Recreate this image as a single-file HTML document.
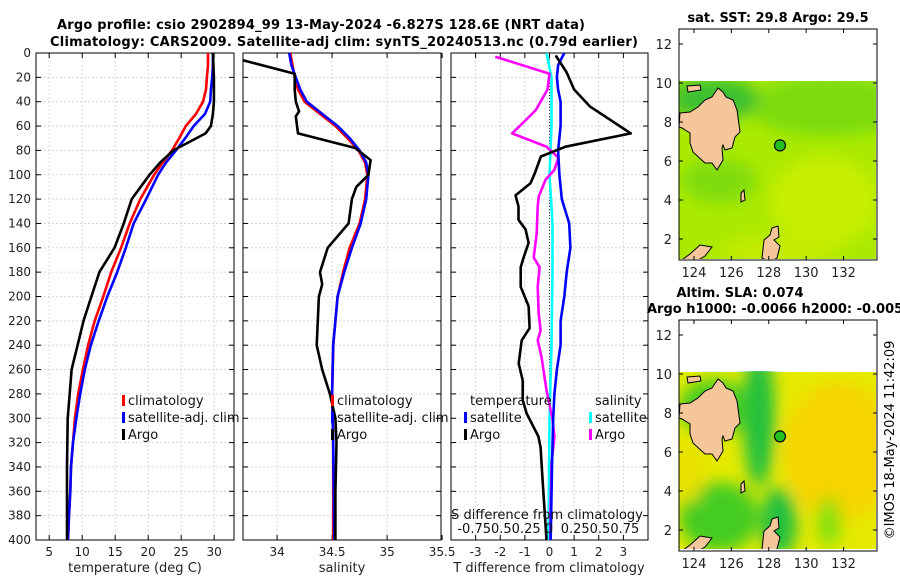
<!DOCTYPE html>
<html><head><meta charset="utf-8"><style>
body{margin:0;background:#fff}
svg{display:block;font-family:"DejaVu Sans","Liberation Sans",sans-serif}
</style></head><body>
<svg id="c" width="900" height="580" viewBox="0 0 900 580" xmlns="http://www.w3.org/2000/svg">
<defs>
<filter id="blur" x="-20%" y="-20%" width="140%" height="140%"><feGaussianBlur stdDeviation="8"/></filter>
<clipPath id="clipTop"><rect x="679" y="81" width="197" height="178"/></clipPath>
<clipPath id="clipBot"><rect x="679" y="371" width="197" height="178"/></clipPath>
</defs>
<text x="321" y="29" font-size="13" font-weight="bold" text-anchor="middle" textLength="528">Argo profile: csio 2902894_99 13-May-2024 -6.827S 128.6E (NRT data)</text>
<text x="344" y="46" font-size="13" font-weight="bold" text-anchor="middle" textLength="588">Climatology: CARS2009. Satellite-adj clim: synTS_20240513.nc (0.79d earlier)</text>
<g id="plots"></g>
<g id="maps"></g>
<text transform="translate(894,440) rotate(-90)" font-size="13" text-anchor="middle">©IMOS 18-May-2024 11:42:09</text>
</svg>
<script>
// ---- data ----
const depthClim = [0,10,20,30,40,50,60,70,80,90,100,120,140,160,180,200,220,240,260,280,300,320,340,360,380,400];
const tempClim = [29.06,29.06,28.9,28.76,28.3,27.24,25.7,24.7,23.6,22.2,20.9,18.8,17.2,15.9,14.4,13.2,11.9,10.9,10.1,9.4,8.9,8.6,8.3,8.2,8.0,7.85];
const tempSat = [29.8,29.8,29.7,29.5,29.4,28.6,26.9,25.6,24.2,22.7,21.5,19.7,17.8,16.6,15.3,13.8,12.5,11.3,10.4,9.7,9.1,8.6,8.3,8.2,8.0,7.85];
const depthArgoT = [0,20,40,50,60,66,80,90,100,120,140,160,180,200,220,240,260,280,300,340,400];
const tempArgo = [29.8,29.95,29.95,29.8,29.5,28.7,23.8,21.8,20.2,17.5,16.3,14.9,12.6,11.4,10.2,9.3,8.4,8.1,7.8,7.7,7.7];
const depthSalClim = [0,10,20,30,40,50,60,70,80,90,100,120,140,160,180,200,240,280,320,400];
const salClim = [34.12,34.14,34.16,34.19,34.25,34.39,34.53,34.64,34.74,34.8,34.82,34.8,34.75,34.66,34.6,34.55,34.51,34.5,34.51,34.51];
const salSat = [34.11,34.13,34.17,34.21,34.27,34.41,34.55,34.66,34.75,34.81,34.83,34.81,34.76,34.68,34.61,34.55,34.51,34.5,34.51,34.52];
const depthArgoS = [6,17,30,40,48,52,66,78,88,100,110,120,140,160,180,190,200,220,240,260,280,300,320,360,400];
const salArgo = [33.69,34.16,34.16,34.17,34.2,34.17,34.19,34.71,34.85,34.83,34.72,34.68,34.65,34.46,34.39,34.41,34.38,34.37,34.36,34.41,34.48,34.53,34.54,34.53,34.53];
const depthDT = [0,10,20,30,40,60,80,100,120,140,160,180,200,220,240,260,280,300,340,400];
const dTSat = [0.6,0.35,0.3,0.35,0.45,0.45,0.35,0.4,0.5,0.8,0.85,0.7,0.6,0.45,0.45,0.3,0.2,0.15,0.1,0.05];
const depthDTArgo = [2,16,30,44,66,77,85,99,107,117,126,137,145,156,168,176,192,208,226,236,255,269,285,296,315,324,351,376,400];
const dTArgo = [0.25,0.7,1.0,1.65,3.3,0.65,-0.35,-0.6,-0.77,-1.38,-1.26,-1.26,-0.97,-0.85,-1.05,-1.17,-1.17,-0.85,-0.81,-1.13,-1.25,-1.09,-1.09,-0.93,-0.45,-0.36,-0.28,-0.2,-0.12];
const depthDS = [0,20,60,100,140,180,240,300,400];
const dSSat = [-0.03,0.02,0.02,0.0,0.03,0.03,0.02,0.0,-0.01];
const depthDSArgo = [3,17,30,47,55,66,77,86,96,104,118,126,148,168,176,192,214,228,236,250,277,301,315,337,376,400];
const dSArgo = [-0.55,0.0,-0.02,-0.14,-0.24,-0.38,-0.03,0.09,0.05,-0.04,-0.11,-0.12,-0.13,-0.16,-0.1,-0.12,-0.11,-0.09,-0.12,-0.08,-0.03,0.03,0.05,0.02,0.01,0.01];
const depthTicks = [0,20,40,60,80,100,120,140,160,180,200,220,240,260,280,300,320,340,360,380,400];
const tempTicks = [5,10,15,20,25,30];
const salTicks = [34,34.5,35,35.5];
const salTickLabels = ["34","34.5","35","35.5"];
const dTTicks = [-3,-2,-1,0,1,2,3];
const dSLabels = ["-0.750.50.25","0","0.250.50.75"];
const mapLatTicks = [2,4,6,8,10,12];
const mapLonTicks = [124,126,128,130,132];
const argoLon = 128.6, argoLat = 6.8;

// ---- helpers ----
const NS = "http://www.w3.org/2000/svg";
function mk(tag, attrs, parent, text){ const e=document.createElementNS(NS,tag); for(const k in attrs) e.setAttribute(k,attrs[k]); if(text!==undefined) e.textContent=text; (parent||document.getElementById('plots')).appendChild(e); return e; }
const Y0=53, Y1=540;
const yD = d => Y0 + (d/400)*(Y1-Y0);
const panels = [
  {x0:36,x1:234,v0:3,v1:33,name:'temperature'},
  {x0:243,x1:441,v0:33.69,v1:35.49,name:'salinity'},
  {x0:451,x1:648,v0:-4,v1:4,name:'difference'}
];
const xs = (p,v)=> p.x0 + (v-p.v0)/(p.v1-p.v0)*(p.x1-p.x0);
const g = document.getElementById('plots');

panels.forEach((p,i)=>{
  const pg = mk('g',{},g);
  
  
  depthTicks.forEach(d=>{
    const l=mk('line',{x1:p.x0,x2:p.x1,y1:yD(d),y2:yD(d),stroke:'#c8cde8','stroke-width':0.8,'stroke-dasharray':'2,2'},pg);
    
    
    mk('line',{x1:p.x0,x2:p.x0+5,y1:yD(d),y2:yD(d),stroke:'#000'},pg);
    mk('line',{x1:p.x1,x2:p.x1-5,y1:yD(d),y2:yD(d),stroke:'#000'},pg);
  });
  const ticks = i==0?tempTicks:(i==1?salTicks:dTTicks);
  ticks.forEach((t,k)=>{
    const x=xs(p,t);
    if(x<p.x1-1){
      const l=mk('line',{x1:x,x2:x,y1:Y0,y2:Y1,stroke:'#c8cde8','stroke-width':0.8,'stroke-dasharray':'2,2'},pg);
      
      
    }
    mk('line',{x1:x,x2:x,y1:Y1,y2:Y1-5,stroke:'#000'},pg);
    mk('line',{x1:x,x2:x,y1:Y0,y2:Y0+5,stroke:'#000'},pg);
    const lab = i==1?salTickLabels[k]:String(t);
    const tl=mk('text',{x:x,y:556,'font-size':12,'text-anchor':'middle',fill:'#222'},pg,lab);
    
    
  });
  const fr=mk('rect',{x:p.x0,y:Y0,width:p.x1-p.x0,height:Y1-Y0,fill:'none',stroke:'#000','stroke-width':1},pg);
  
  
});
depthTicks.forEach(d=>{
  const t=mk('text',{x:31,y:yD(d)+4,'font-size':12,'text-anchor':'end',fill:'#222'},g,String(d));
  
  
});
[[135,'temperature (deg C)','temperature-axis-title'],[342,'salinity','salinity-axis-title'],[549,'T difference from climatology','t-diff-axis-title']].forEach(a=>{
  const t=mk('text',{x:a[0],y:572,'font-size':13,'text-anchor':'middle',fill:'#222'},g,a[1]);
  
  
});
const zl=mk('line',{x1:xs(panels[2],0),x2:xs(panels[2],0),y1:Y0,y2:Y1,stroke:'#333','stroke-width':1,'stroke-dasharray':'1,2'},g);



function series(p, vals, depths, color, name, scale){
  const pts = vals.map((v,k)=> xs(p, v*(scale||1)).toFixed(1)+','+yD(depths[k]).toFixed(1)).join(' ');
  const l=mk('polyline',{points:pts,fill:'none',stroke:color,'stroke-width':2.6,'stroke-linejoin':'round'},g);
  
  
}
series(panels[0],tempClim,depthClim,'#ff0000','temp-climatology-line');
series(panels[0],tempSat,depthClim,'#0000ff','temp-satellite-line');
series(panels[0],tempArgo,depthArgoT,'#000','temp-argo-line');
series(panels[1],salClim,depthSalClim,'#ff0000','sal-climatology-line');
series(panels[1],salSat,depthSalClim,'#0000ff','sal-satellite-line');
series(panels[1],salArgo,depthArgoS,'#000','sal-argo-line');
series(panels[2],dSSat,depthDS,'#00ffff','sdiff-satellite-line',4);
series(panels[2],dSArgo,depthDSArgo,'#ff00ff','sdiff-argo-line',4);
series(panels[2],dTSat,depthDT,'#0000ff','tdiff-satellite-line');
series(panels[2],dTArgo,depthDTArgo,'#000','tdiff-argo-line');

function legend(x,y,color,label,name){
  const lg=mk('g',{},g);
  
  
  if(color) mk('rect',{x:x,y:y-5,width:3,height:11,fill:color},lg);
  mk('text',{x:x+6,y:y+5,'font-size':13,fill:'#111'},lg,label);
}
legend(122,400,'#ff0000','climatology','legend-climatology');
legend(122,417,'#0000ff','satellite-adj. clim','legend-satellite');
legend(122,434,'#000','Argo','legend-argo');
legend(331,400,'#ff0000','climatology','legend2-climatology');
legend(331,417,'#0000ff','satellite-adj. clim','legend2-satellite');
legend(331,434,'#000','Argo','legend2-argo');
legend(464,400,null,'temperature','legend-temperature-header');
legend(464,417,'#0000ff','satellite','legend-tdiff-satellite');
legend(464,434,'#000','Argo','legend-tdiff-argo');
legend(589,400,null,'salinity','legend-salinity-header');
legend(589,417,'#00ffff','satellite','legend-sdiff-satellite');
legend(589,434,'#ff00ff','Argo','legend-sdiff-argo');
const st=mk('text',{x:547,y:519,'font-size':13,'text-anchor':'middle',fill:'#111'},g,'S difference from climatology');


[[499,dSLabels[0]],[549,dSLabels[1]],[600,dSLabels[2]]].forEach(a=>{
  const t=mk('text',{x:a[0],y:533,'font-size':13,'text-anchor':'middle',fill:'#111'},g,a[1]);
  
  
});

// ---- maps ----
const M = document.getElementById('maps');
function drawMap(top, kind){
  const fx0=679, fx1=877, fy0=top, fy1=top+231;
  const lonX = lon => fx0 + (lon-123.2)*18.7;
  const latY = lat => top+54 + (10-lat)*19.5;
  const mg = mk('g',{},M);
  
  
  const clip = kind=='sst'?'url(#clipTop)':'url(#clipBot)';
  const dg = mk('g',{'clip-path':clip},mg);
  const dy0 = latY(10.1);
  if(kind=='sst'){
    mk('rect',{x:fx0,y:dy0,width:197,height:180,fill:'#aaea00'},dg);
    const bl=mk('g',{filter:'url(#blur)'},dg);
    mk('ellipse',{cx:fx0+150,cy:dy0+25,rx:80,ry:30,fill:'#7cdc10'},bl);
    mk('ellipse',{cx:fx0+35,cy:dy0+18,rx:45,ry:22,fill:'#3cc030'},bl);
    mk('ellipse',{cx:fx0+40,cy:dy0+100,rx:38,ry:22,fill:'#80dc10'},bl);
    mk('ellipse',{cx:fx0+145,cy:dy0+120,rx:55,ry:45,fill:'#c8ee00'},bl);
    mk('ellipse',{cx:fx0+100,cy:dy0+170,rx:60,ry:15,fill:'#c4ec00'},bl);
  } else {
    mk('rect',{x:fx0,y:dy0,width:197,height:180,fill:'#e6ea00'},dg);
    const bl=mk('g',{filter:'url(#blur)'},dg);
    mk('ellipse',{cx:fx0+160,cy:dy0+80,rx:55,ry:70,fill:'#f6d400'},bl);
    mk('ellipse',{cx:fx0+80,cy:dy0+45,rx:16,ry:70,fill:'#20c040'},bl);
    mk('ellipse',{cx:fx0+35,cy:dy0+35,rx:35,ry:28,fill:'#44cc20'},bl);
    mk('ellipse',{cx:fx0+40,cy:dy0+145,rx:40,ry:35,fill:'#44cc20'},bl);
    mk('ellipse',{cx:fx0+100,cy:dy0+150,rx:18,ry:35,fill:'#24c040'},bl);
    mk('ellipse',{cx:fx0+150,cy:dy0+150,rx:12,ry:25,fill:'#80e010'},bl);
    mk('ellipse',{cx:fx0+10,cy:dy0+100,rx:15,ry:30,fill:'#e8e000'},bl);
  }
  const o = top-29;
  const land = [[680,113],[690,112],[698,107],[705,100],[712,97],[718,88],[723,92],[726,97],[733,100],[737,110],[740,132],[735,137],[732,148],[725,150],[723,145],[722,148],[723,160],[717,170],[712,163],[705,163],[693,152],[690,143],[690,133],[682,128],[679,127]];
  const lg = mk('g',{fill:'#f5c69a',stroke:'#000','stroke-width':1},dg);
  
  
  mk('polygon',{points:land.map(p=>p[0]+','+(p[1]+o)).join(' ')},lg);
  mk('polygon',{points:[[687,86],[700,85],[701,90],[688,92]].map(p=>p[0]+','+(p[1]+o)).join(' ')},lg);
  mk('polygon',{points:[[762,258],[764,240],[770,235],[772,228],[778,226],[779,237],[774,240],[780,246],[777,258],[770,262]].map(p=>p[0]+','+(p[1]+o)).join(' ')},lg);
  mk('polygon',{points:[[679,262],[690,254],[700,245],[712,247],[705,256],[695,262]].map(p=>p[0]+','+(p[1]+o)).join(' ')},lg);
  mk('polygon',{points:[[741,193],[744,190],[745,200],[741,202]].map(p=>p[0]+','+(p[1]+o)).join(' ')},lg);
  const c=mk('circle',{cx:lonX(argoLon),cy:latY(argoLat),r:5.5,fill:'#22c020',stroke:'#000','stroke-width':1.2},mg);
  
  
  mk('rect',{x:fx0,y:fy0,width:fx1-fx0,height:fy1-fy0,fill:'none',stroke:'#000'},mg);
  mapLatTicks.forEach(t=>{
    const y=latY(t);
    mk('line',{x1:fx0,x2:fx0+4,y1:y,y2:y,stroke:'#000'},mg);
    mk('line',{x1:fx1,x2:fx1-4,y1:y,y2:y,stroke:'#000'},mg);
    const tl=mk('text',{x:672,y:y+5,'font-size':13,'text-anchor':'end',fill:'#222'},mg,String(t));
    
    
  });
  mapLonTicks.forEach(t=>{
    const x=lonX(t);
    mk('line',{x1:x,x2:x,y1:fy1,y2:fy1-4,stroke:'#000'},mg);
    mk('line',{x1:x,x2:x,y1:fy0,y2:fy0+4,stroke:'#000'},mg);
    const tl=mk('text',{x:x,y:fy1+17,'font-size':13,'text-anchor':'middle',fill:'#222'},mg,String(t));
    
    
  });
}
drawMap(29,'sst');
drawMap(320,'sla');
function mtitle(x,y,txt,name,anchor){
  const t=mk('text',{x:x,y:y,'font-size':13,'font-weight':'bold','text-anchor':anchor||'middle',fill:'#000'},M,txt);
  
  
}
mtitle(778,22,'sat. SST: 29.8 Argo: 29.5','sst-map-title');
mtitle(740,297,'Altim. SLA: 0.074','sla-map-title');
mtitle(647,313,'Argo h1000: -0.0066 h2000: -0.005','sla-argo-heights','start');
</script>
</body></html>
